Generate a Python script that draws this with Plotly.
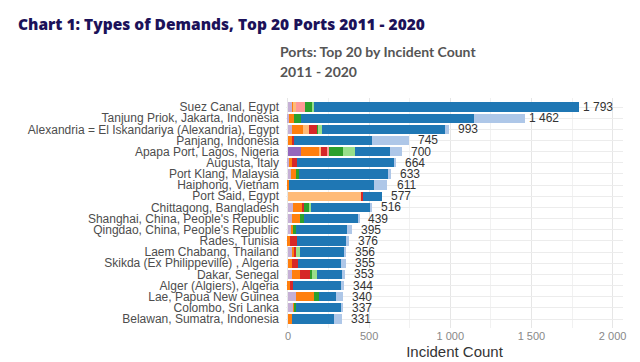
import plotly.graph_objects as go

ports = [
    "Suez Canal, Egypt",
    "Tanjung Priok, Jakarta, Indonesia",
    "Alexandria = El Iskandariya (Alexandria), Egypt",
    "Panjang, Indonesia",
    "Apapa Port, Lagos, Nigeria",
    "Augusta, Italy",
    "Port Klang, Malaysia",
    "Haiphong, Vietnam",
    "Port Said, Egypt",
    "Chittagong, Bangladesh",
    "Shanghai, China, People's Republic",
    "Qingdao, China, People's Republic",
    "Rades, Tunisia",
    "Laem Chabang, Thailand",
    "Skikda (Ex Philippeville) , Algeria",
    "Dakar, Senegal",
    "Alger (Algiers), Algeria",
    "Lae, Papua New Guinea",
    "Colombo, Sri Lanka",
    "Belawan, Sumatra, Indonesia",
]

# demand-type segments (left to right), one value per port
type_a = [0, 0, 0, 0, 80, 0, 0, 0, 0, 0, 0, 0, 0, 0, 0, 0, 0, 0, 0, 0]
type_b = [25, 6, 22, 0, 0, 6, 20, 0, 0, 33, 22, 18, 0, 22, 0, 22, 0, 49, 33, 0]
type_c = [12, 31, 72, 22, 113, 20, 30, 8, 0, 57, 51, 14, 12, 20, 22, 55, 12, 113, 10, 22]
type_d = [12, 0, 37, 0, 10, 0, 0, 0, 453, 0, 0, 0, 0, 0, 0, 0, 0, 0, 0, 0]
type_e = [0, 0, 48, 14, 41, 28, 0, 0, 8, 8, 0, 0, 45, 6, 37, 62, 20, 0, 0, 0]
type_f = [53, 0, 0, 0, 10, 0, 0, 0, 0, 0, 0, 0, 0, 0, 0, 0, 0, 0, 0, 0]
type_g = [45, 41, 8, 0, 86, 0, 20, 0, 0, 33, 25, 20, 0, 0, 0, 10, 0, 31, 8, 0]
type_h = [16, 0, 24, 0, 74, 0, 0, 0, 0, 10, 0, 0, 0, 29, 0, 27, 0, 0, 0, 0]
type_i = [1630, 1070, 755, 479, 215, 600, 545, 525, 116, 367, 335, 314, 303, 273, 270, 154, 297, 102, 277, 262]
type_j = [0, 314, 27, 230, 71, 10, 18, 78, 0, 8, 6, 29, 16, 6, 26, 23, 15, 45, 9, 47]

series_names = ["Type A", "Type B", "Type C", "Type D", "Type E",
                "Type F", "Type G", "Type H", "Type I", "Type J"]
series_values = [type_a, type_b, type_c, type_d, type_e,
                 type_f, type_g, type_h, type_i, type_j]
series_colors = ["#9467bd", "#c5b0d5", "#ff7f0e", "#ffbb78", "#d62728",
                 "#ff9896", "#2ca02c", "#98df8a", "#1f77b4", "#aec7e8"]

totals = [sum(v[i] for v in series_values) for i in range(len(ports))]

x_ticks = [0, 500, 1000, 1500, 2000]

fig = go.Figure()
for name, vals, col in zip(series_names, series_values, series_colors):
    fig.add_trace(go.Bar(
        y=ports, x=vals, name=name, orientation="h",
        marker=dict(color=col, line=dict(width=0)),
    ))

for p, t in zip(ports, totals):
    fig.add_annotation(
        x=t, y=p, xref="x", yref="y",
        text=f"{t:,}".replace(",", " "),
        showarrow=False, xanchor="center", xshift=19,
        font=dict(family="Liberation Sans, Arial", size=12, color="#333333"),
    )

fig.add_annotation(
    xref="paper", yref="paper", x=-0.024, y=1.0, yshift=47,
    text="<b>Ports: Top 20 by Incident Count</b>", showarrow=False,
    xanchor="left", yanchor="middle",
    font=dict(family="Lato", size=14, color="#555555"),
)
fig.add_annotation(
    xref="paper", yref="paper", x=-0.024, y=1.0, yshift=27,
    text="<b>2011 - 2020</b>", showarrow=False,
    xanchor="left", yanchor="middle",
    font=dict(family="Lato", size=14, color="#555555"),
)

fig.update_layout(
    width=640, height=362,
    barmode="stack", bargap=0.17,
    showlegend=False,
    paper_bgcolor="white", plot_bgcolor="white",
    margin=dict(l=286, r=17, t=98, b=34),
    separators=". ",
    title=dict(
        text="Chart 1: Types of Demands, Top 20 Ports 2011 - 2020",
        x=18 / 640, xanchor="left", xref="container",
        y=1 - 25 / 362, yanchor="middle", yref="container",
        font=dict(family="Open Sans", size=15.5, color="#1c1259", weight=800),
    ),
    xaxis=dict(
        range=[-12, 2064],
        tickvals=x_ticks,
        tickformat=",d",
        automargin=False,
        showgrid=True, gridcolor="#e6e6e6", gridwidth=1,
        minor=dict(dtick=250, showgrid=True, gridcolor="#f1f1f1"),
        zeroline=False, showline=False, ticks="",
        tickfont=dict(family="Liberation Sans, Arial", size=11, color="#888888"),
        title=dict(text="Incident Count", standoff=5,
                   font=dict(family="Liberation Sans, Arial", size=15, color="#333333")),
    ),
    yaxis=dict(
        categoryorder="array", categoryarray=ports[::-1],
        tickmode="array", tickvals=ports,
        automargin=False,
        showgrid=True, gridcolor="#ececec",
        zeroline=False, showline=False, ticks="",
        ticklabelstandoff=6,
        tickfont=dict(family="Liberation Sans, Arial", size=12, color="#4d4d4d"),
    ),
)

fig.write_html("out.html", config={"displayModeBar": False},
               post_script="document.body.style.margin='0';")
